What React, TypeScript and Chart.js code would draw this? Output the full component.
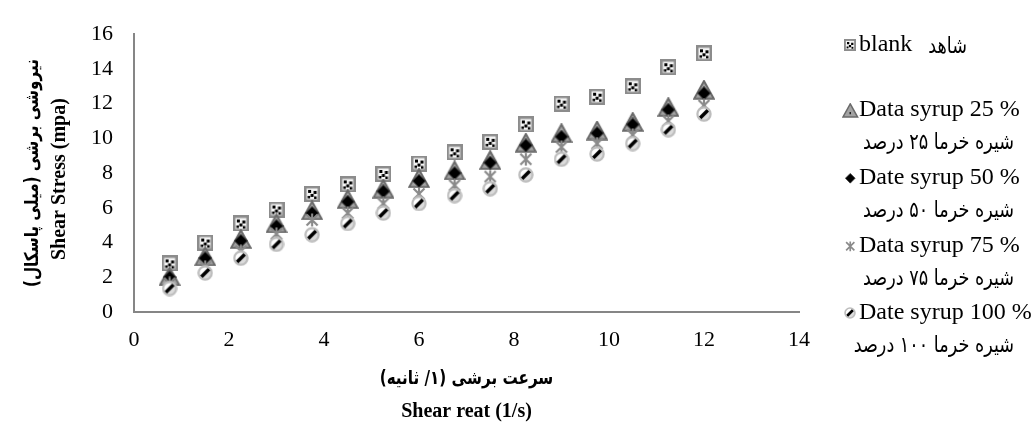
import React, { useEffect, useRef } from 'react';
import { Chart, registerables } from 'chart.js';

Chart.register(...registerables);

// ---------- data ----------
const shearRate = [0.75, 1.5, 2.25, 3, 3.75, 4.5, 5.25, 6, 6.75, 7.5, 8.25, 9, 9.75, 10.5, 11.25, 12];
const blankStress = [2.8, 4.0, 5.1, 5.9, 6.8, 7.35, 7.95, 8.55, 9.2, 9.8, 10.8, 12.0, 12.4, 13.0, 14.1, 14.9];
const syrup25 = [2.05, 3.2, 4.2, 5.1, 5.85, 6.5, 7.1, 7.7, 8.15, 8.75, 9.75, 10.3, 10.45, 10.95, 11.8, 12.8];
const syrup50 = [2.0, 3.1, 4.1, 4.95, 5.7, 6.35, 6.95, 7.55, 8.0, 8.6, 9.6, 10.1, 10.3, 10.8, 11.65, 12.6];
const syrup75 = [1.65, 2.6, 3.5, 4.5, 5.3, 5.7, 6.25, 6.8, 7.3, 7.8, 8.8, 9.5, 9.7, 10.2, 11.0, 11.9];
const syrup100 = [1.35, 2.25, 3.1, 3.9, 4.45, 5.1, 5.7, 6.25, 6.7, 7.1, 7.9, 8.8, 9.1, 9.7, 10.5, 11.4];

const xMin = 0, xMax = 14, xStep = 2;
const yMin = 0, yMax = 16, yStep = 2;

const legendEnglish = ['blank', 'Data syrup 25 %', 'Date syrup 50 %', 'Data syrup 75 %', 'Date syrup 100 %'];
const legendPersian = ['شاهد', 'شیره خرما ۲۵ درصد', 'شیره خرما ۵۰ درصد', 'شیره خرما ۷۵ درصد', 'شیره خرما ۱۰۰ درصد'];
const xTitleFa = 'سرعت برشی (۱/ ثانیه)';
const xTitleEn = 'Shear reat (1/s)';
const yTitleFa = 'نیروشی برشی (میلی پاسکال)';
const yTitleEn = 'Shear Stress (mpa)';

const SERIF = "'Liberation Serif', 'Times New Roman', serif";
const ARABIC = "'DejaVu Sans', sans-serif";
const FA_SQUEEZE = 0.8;

// ---------- marker images ----------
type Drawer = (ctx: CanvasRenderingContext2D) => void;
function makeMarker(w: number, h: number, scale: number, draw: Drawer): HTMLCanvasElement {
  const c = document.createElement('canvas');
  c.width = Math.round(w * scale);
  c.height = Math.round(h * scale);
  const ctx = c.getContext('2d')!;
  ctx.scale(scale, scale);
  draw(ctx);
  return c;
}

const drawSquare: Drawer = (ctx) => {
  ctx.fillStyle = '#8c8c8c';
  ctx.fillRect(0, 0, 16, 16);
  ctx.fillStyle = '#f4f4f4';
  ctx.fillRect(2.5, 2.5, 11, 11);
  ctx.fillStyle = '#000';
  ctx.fillRect(4, 4, 3, 3);
  ctx.fillRect(9.5, 5, 3, 3);
  ctx.fillRect(6.5, 8, 3, 3);
  ctx.fillRect(3.5, 10, 2.5, 2.5);
  ctx.fillRect(10, 10.5, 2.5, 2.5);
};

const drawTriangle: Drawer = (ctx) => {
  ctx.beginPath();
  ctx.moveTo(11, 1.2);
  ctx.lineTo(20.8, 18.8);
  ctx.lineTo(1.2, 18.8);
  ctx.closePath();
  ctx.fillStyle = '#a3a3a3';
  ctx.fill();
  ctx.lineWidth = 2;
  ctx.strokeStyle = '#6a6a6a';
  ctx.stroke();
  ctx.fillStyle = '#222';
  ctx.fillRect(10, 12, 2, 3);
};

const drawDiamond: Drawer = (ctx) => {
  ctx.beginPath();
  ctx.moveTo(7, 0.5);
  ctx.lineTo(13.5, 7);
  ctx.lineTo(7, 13.5);
  ctx.lineTo(0.5, 7);
  ctx.closePath();
  ctx.fillStyle = '#000';
  ctx.fill();
  ctx.lineWidth = 1;
  ctx.strokeStyle = '#3a3a3a';
  ctx.stroke();
};

const drawStar: Drawer = (ctx) => {
  ctx.strokeStyle = '#8a8a8a';
  ctx.lineWidth = 2.2;
  ctx.lineCap = 'butt';
  ctx.beginPath();
  ctx.moveTo(1.5, 1.5);
  ctx.lineTo(12.5, 12.5);
  ctx.moveTo(12.5, 1.5);
  ctx.lineTo(1.5, 12.5);
  ctx.moveTo(7, 0.5);
  ctx.lineTo(7, 13.5);
  ctx.stroke();
};

const drawCircle: Drawer = (ctx) => {
  ctx.beginPath();
  ctx.arc(8, 8, 6.6, 0, Math.PI * 2);
  ctx.fillStyle = '#ffffff';
  ctx.fill();
  ctx.save();
  ctx.clip();
  ctx.fillStyle = '#dcdcdc';
  ctx.beginPath();
  ctx.moveTo(16, 0);
  ctx.lineTo(16, 16);
  ctx.lineTo(0, 16);
  ctx.closePath();
  ctx.fill();
  ctx.strokeStyle = '#000';
  ctx.lineWidth = 3.6;
  ctx.beginPath();
  ctx.moveTo(4, 12);
  ctx.lineTo(12, 4);
  ctx.stroke();
  ctx.restore();
  ctx.beginPath();
  ctx.arc(8, 8, 6.6, 0, Math.PI * 2);
  ctx.lineWidth = 2.2;
  ctx.strokeStyle = '#bdbdbd';
  ctx.stroke();
};

const markerDefs: Array<[number, number, Drawer]> = [
  [16, 16, drawSquare],
  [22, 20, drawTriangle],
  [14, 14, drawDiamond],
  [14, 14, drawStar],
  [16, 16, drawCircle],
];

export default function App() {
  const canvasRef = useRef<HTMLCanvasElement | null>(null);

  useEffect(() => {
    const canvas = canvasRef.current;
    if (!canvas) return;

    const chartMarkers = markerDefs.map(([w, h, d]) => makeMarker(w, h, 1, d));
    const legendMarkers = markerDefs.map(([w, h, d]) => makeMarker(w, h, 0.75, d));

    const seriesValues = [blankStress, syrup25, syrup50, syrup75, syrup100];
    const orders = [5, 4, 3, 2, 1];

    const datasets = seriesValues.map((vals, i) => ({
      label: legendEnglish[i],
      data: shearRate.map((x, j) => ({ x, y: vals[j] })),
      pointStyle: chartMarkers[i] as any,
      pointRadius: 8,
      order: orders[i],
      showLine: false,
    }));

    // font size (before horizontal squeeze) that makes the text span `target` px
    const fitFont = (ctx: CanvasRenderingContext2D, text: string, weight: string, family: string, target: number) => {
      ctx.font = `${weight} 100px ${family}`;
      const w = ctx.measureText(text).width * FA_SQUEEZE;
      return (100 * target) / w;
    };

    const drawFa = (
      ctx: CanvasRenderingContext2D,
      text: string,
      x: number,
      y: number,
      font: string,
      align: CanvasTextAlign,
      rotate = 0
    ) => {
      ctx.save();
      ctx.translate(x, y);
      if (rotate) ctx.rotate(rotate);
      ctx.scale(FA_SQUEEZE, 1);
      ctx.font = font;
      ctx.direction = 'rtl';
      ctx.textAlign = align;
      ctx.textBaseline = 'middle';
      ctx.fillText(text, 0, 0);
      ctx.restore();
    };

    const extras = {
      id: 'extras',
      afterDraw(chart: any) {
        const ctx: CanvasRenderingContext2D = chart.ctx;
        const area = chart.chartArea;
        const midX = (area.left + area.right) / 2;
        const midY = (area.top + area.bottom) / 2;
        ctx.save();
        ctx.fillStyle = '#000';
        ctx.textBaseline = 'middle';

        // Y axis titles
        const faTitleSize = fitFont(ctx, yTitleFa, 'bold', ARABIC, 228);
        drawFa(ctx, yTitleFa, 33, midY, `bold ${faTitleSize}px ${ARABIC}`, 'center', -Math.PI / 2);

        ctx.save();
        ctx.translate(60, midY + 6);
        ctx.rotate(-Math.PI / 2);
        ctx.textAlign = 'center';
        ctx.font = `bold 20px ${SERIF}`;
        ctx.fillText(yTitleEn, 0, 0);
        ctx.restore();

        // X axis titles
        drawFa(ctx, xTitleFa, midX, 379, `bold ${faTitleSize}px ${ARABIC}`, 'center');
        ctx.save();
        ctx.textAlign = 'center';
        ctx.font = `bold 20px ${SERIF}`;
        ctx.fillText(xTitleEn, midX, 412);
        ctx.restore();

        // Legend
        const enY = [45, 110, 178, 246, 313];
        const markerX = 850;
        const textX = 859;
        const faSize = fitFont(ctx, legendPersian[1], 'normal', ARABIC, 151);
        for (let i = 0; i < legendEnglish.length; i++) {
          const m = legendMarkers[i];
          ctx.drawImage(m, Math.round(markerX - m.width / 2), Math.round(enY[i] - m.height / 2));
          ctx.font = `24px ${SERIF}`;
          ctx.textAlign = 'left';
          ctx.direction = 'ltr';
          ctx.fillText(legendEnglish[i], textX, enY[i]);
          const font = `${faSize}px ${ARABIC}`;
          if (i === 0) {
            drawFa(ctx, legendPersian[i], 967, enY[i] + 2, font, 'right');
          } else {
            drawFa(ctx, legendPersian[i], 1014, enY[i] + 33, font, 'right');
          }
        }
        ctx.restore();
      },
    };

    const axisCommon = {
      grid: { display: false, drawTicks: false },
      border: { display: true, color: '#868686', width: 2 },
    };

    const chart = new Chart(canvas, {
      type: 'scatter',
      data: { datasets: datasets as any },
      options: {
        responsive: false,
        animation: false,
        events: [],
        layout: { padding: { left: 0, right: 236, top: 22, bottom: 0 } },
        plugins: {
          legend: { display: false },
          tooltip: { enabled: false },
        },
        scales: {
          x: {
            type: 'linear',
            min: xMin,
            max: xMax,
            ticks: {
              stepSize: xStep,
              padding: 15,
              color: '#000',
              font: { family: SERIF, size: 22 },
            },
            ...axisCommon,
            afterFit: (s: any) => {
              s.height = 111;
            },
          },
          y: {
            type: 'linear',
            min: yMin,
            max: yMax,
            ticks: {
              stepSize: yStep,
              padding: 21,
              color: '#000',
              font: { family: SERIF, size: 22 },
            },
            ...axisCommon,
            afterFit: (s: any) => {
              s.width = 134;
            },
          },
        },
      } as any,
      plugins: [extras],
    });

    return () => {
      chart.destroy();
    };
  }, []);

  return (
    <div style={{ position: 'absolute', left: 0, top: 0, width: 1035, height: 423, background: '#fff' }}>
      <canvas ref={canvasRef} width={1035} height={423} style={{ display: 'block', width: 1035, height: 423 }} />
    </div>
  );
}
